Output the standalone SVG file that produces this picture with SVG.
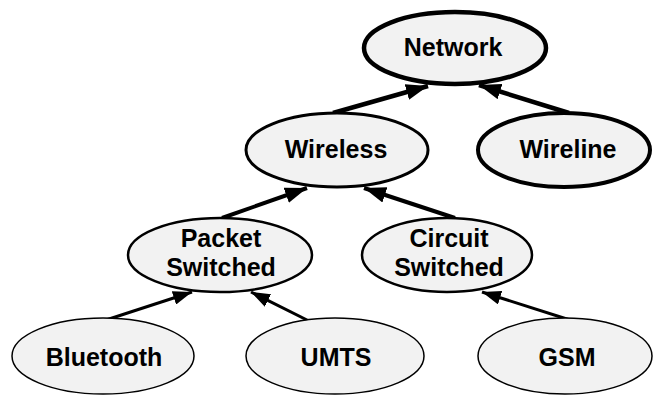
<svg xmlns="http://www.w3.org/2000/svg" width="654" height="396" viewBox="0 0 654 396">
<defs>
<marker id="ah" viewBox="0 0 22 16" refX="22" refY="8" markerWidth="22" markerHeight="16" markerUnits="userSpaceOnUse" orient="auto">
<path d="M0,0 L22,8 L0,16 Z" fill="#000"/>
</marker>
<marker id="ahs" viewBox="0 0 19 14" refX="19" refY="7" markerWidth="19" markerHeight="14" markerUnits="userSpaceOnUse" orient="auto">
<path d="M0,0 L19,7 L0,14 Z" fill="#000"/>
</marker>
</defs>
<style>
ellipse{fill:#f2f2f2;stroke:#000}
text{font-family:"Liberation Sans",Arial,sans-serif;font-weight:bold;font-size:25px;text-anchor:middle;fill:#000}
.c line{stroke:#000}
</style>
<g class="c" id="connectors">
<line x1="333" y1="113" x2="428" y2="86" stroke-width="4.5" marker-end="url(#ah)"/>
<line x1="569" y1="113" x2="479" y2="85" stroke-width="4.5" marker-end="url(#ah)"/>
<line x1="222" y1="218" x2="307" y2="188" stroke-width="4" marker-end="url(#ah)"/>
<line x1="455" y1="218" x2="364" y2="188" stroke-width="4" marker-end="url(#ah)"/>
<line x1="106" y1="320" x2="192" y2="292" stroke-width="3" marker-end="url(#ahs)"/>
<line x1="311" y1="322" x2="251" y2="292" stroke-width="3" marker-end="url(#ahs)"/>
<line x1="570" y1="320" x2="482" y2="292" stroke-width="3" marker-end="url(#ahs)"/>
</g>
<g id="network"><ellipse cx="455" cy="48" rx="91" ry="36" stroke-width="4.5"/><text x="453" y="55.5">Network</text></g>
<g id="wireless"><ellipse cx="337" cy="150" rx="91" ry="37" stroke-width="3"/><text x="336" y="158">Wireless</text></g>
<g id="wireline"><ellipse cx="564" cy="150" rx="86" ry="37" stroke-width="4"/><text x="568" y="158">Wireline</text></g>
<g id="packet"><ellipse cx="220" cy="255" rx="92" ry="37" stroke-width="2.5"/><text x="221" y="246.5">Packet</text><text x="221" y="276">Switched</text></g>
<g id="circuit"><ellipse cx="447" cy="255" rx="85" ry="37" stroke-width="2.5"/><text x="449" y="246.5">Circuit</text><text x="449" y="276">Switched</text></g>
<g id="bluetooth"><ellipse cx="103" cy="356" rx="91" ry="38" stroke-width="1.5"/><text x="104" y="365.5">Bluetooth</text></g>
<g id="umts"><ellipse cx="335" cy="356" rx="89" ry="38" stroke-width="1.5"/><text x="336" y="365.5">UMTS</text></g>
<g id="gsm"><ellipse cx="565" cy="356" rx="87" ry="38" stroke-width="1.5"/><text x="567" y="365.5">GSM</text></g>
</svg>
